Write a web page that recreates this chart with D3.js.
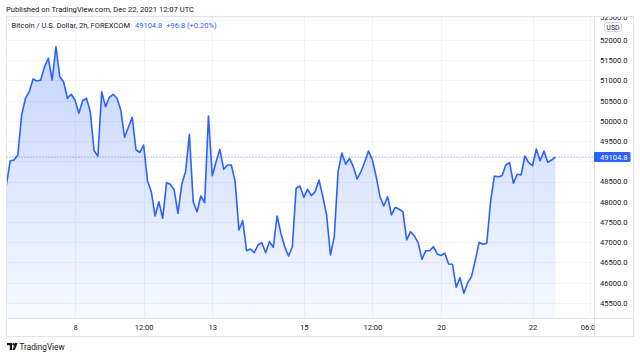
<!DOCTYPE html>
<html><head><meta charset="utf-8">
<script src="https://cdn.jsdelivr.net/npm/d3@7"></script>
<style>
html,body{margin:0;padding:0;background:#fff;}
svg text{font-family:Roboto,"Liberation Sans",sans-serif;}
</style></head>
<body><svg id="c" width="640" height="358"></svg>
<script>
// ---- data (2h closes, BTCUSD FOREXCOM, Dec 6 12:00 -> Dec 22 12:00, weekends skipped) ----
const closes = [
48415,49016,49033,49157,50146,50559,50722,51036,50986,51011,
51340,51548,51011,51834,51093,50969,50559,50658,50517,50188,
50499,50559,50227,49263,49132,50722,50351,50583,50658,50559,
50269,49595,49842,50089,49281,49224,49404,48522,48250,47649,
48002,47592,48472,48433,48292,47716,48433,48744,49669,48002,
47755,48143,47978,50121,48645,48991,49298,48803,48910,48910,
48497,47303,47533,46791,46833,46742,46932,46989,46742,47014,
46875,47649,47221,46890,46660,46890,48334,48391,48111,48309,
48151,48250,48539,48126,47674,46685,47137,48744,49206,48927,
49075,48868,48564,48744,48991,49256,49033,48621,48126,47896,
48126,47674,47864,47815,47755,47056,47261,47155,46989,46578,
46791,46791,46890,46710,46672,46727,46462,46455,45886,46124,
45738,46000,46148,46561,46999,46949,46974,48002,48638,48621,
48645,48910,48967,48457,48680,48663,49132,48967,48892,49305,
49016,49256,48977,49033,49104.8
];
const lastPrice = 49104.8;
const change = "+96.8 (+0.20%)";
const timeTickIndex = [18, 36, 54, 78, 96, 114, 138, 153];
const timeTickLabels = ["8", "12:00", "13", "15", "12:00", "20", "22", "06:00"];
const gridTicks = [45500,46000,46500,47000,47500,48000,48500,49000,49500,50000,50500,51000,51500,52000,52500];
const priceLabelTicks = [45500,46000,46500,47000,47500,48000,48500,49500,50000,50500,51000,51500,52000,52500];
const title = "Bitcoin / U.S. Dollar, 2h, FOREXCOM";
const published = "Published on TradingView.com, Dec 22, 2021 12:07 UTC";

// ---- layout ----
const L = 6.5, T = 16.5, R = 633.5, B = 336.5, PA = 594.5, TA = 318.5;
const blue = "#2962ff", grid = "#f0f3fa", border = "#e0e3eb", txt = "#131722";

const svg = d3.select("#c");
const x = d3.scaleLinear().domain([0, 154]).range([6.4, 593.5]);
const y = d3.scaleLinear().domain([45500, 52000]).range([302.9, 40]);

const defs = svg.append("defs");
const g = defs.append("linearGradient").attr("id","fillg").attr("gradientUnits","userSpaceOnUse")
  .attr("x1",0).attr("x2",0).attr("y1",40).attr("y2",TA);
g.append("stop").attr("offset",0).attr("stop-color",blue).attr("stop-opacity",0.27);
g.append("stop").attr("offset",1).attr("stop-color",blue).attr("stop-opacity",0.04);
defs.append("clipPath").attr("id","plotclip").append("rect").attr("x",L).attr("y",T).attr("width",PA-L).attr("height",TA-T);
defs.append("clipPath").attr("id","timeclip").append("rect").attr("x",L).attr("y",TA).attr("width",PA-L).attr("height",B-TA);
defs.append("clipPath").attr("id","priceclip").append("rect").attr("x",PA).attr("y",T+0.5).attr("width",R-PA).attr("height",TA-T);

// header
svg.append("text").attr("x",6).attr("y",12).attr("font-size",7.6).attr("fill",txt).text(published);

// grid
const plot = svg.append("g").attr("clip-path","url(#plotclip)");
plot.selectAll(".hg").data(gridTicks).join("line")
  .attr("x1",L).attr("x2",PA).attr("y1",d=>Math.round(y(d))+0.5).attr("y2",d=>Math.round(y(d))+0.5)
  .attr("stroke",grid).attr("stroke-width",1);
plot.selectAll(".vg").data(timeTickIndex).join("line")
  .attr("x1",d=>Math.round(x(d))+0.5).attr("x2",d=>Math.round(x(d))+0.5).attr("y1",T).attr("y2",TA)
  .attr("stroke",grid).attr("stroke-width",1);

// area + line
const idx = closes.map((d,i)=>i);
plot.append("path").datum(idx)
  .attr("d", d3.area().x(i=>x(i)).y0(TA).y1(i=>y(closes[i])))
  .attr("fill","url(#fillg)");
plot.append("path").datum(idx)
  .attr("d", d3.line().x(i=>x(i)).y(i=>y(closes[i])))
  .attr("fill","none").attr("stroke",blue).attr("stroke-width",1.6).attr("stroke-linejoin","round");

// last price dotted line
plot.append("line").attr("x1",L).attr("x2",PA).attr("y1",y(lastPrice)).attr("y2",y(lastPrice))
  .attr("stroke",blue).attr("stroke-width",1).attr("stroke-dasharray","1,2").attr("opacity",0.8);

// frame
svg.append("rect").attr("x",L).attr("y",T).attr("width",R-L).attr("height",B-T).attr("fill","none").attr("stroke",border);
svg.append("line").attr("x1",PA).attr("x2",PA).attr("y1",T).attr("y2",B).attr("stroke",border);
svg.append("line").attr("x1",L).attr("x2",R).attr("y1",TA).attr("y2",TA).attr("stroke",border);

// price axis
const yAxis = d3.axisRight(y).tickValues(priceLabelTicks).tickSize(0).tickPadding(0).tickFormat(d3.format(".1f"));
const ya = svg.append("g").attr("clip-path","url(#priceclip)").append("g").attr("transform",`translate(${PA},0)`).call(yAxis);
ya.select(".domain").remove();
ya.selectAll("text").attr("x",33).attr("text-anchor","end").attr("font-size",7.6).attr("fill",txt).attr("font-family","Roboto,sans-serif");
ya.selectAll(".tick").filter(d=>d===52500).select("text").attr("dy","-0.05em");

// USD badge
svg.append("rect").attr("x",604.5).attr("y",22.5).attr("width",17).attr("height",9).attr("rx",2.5)
  .attr("fill","#fff").attr("stroke","#d1d4dc");
svg.append("text").attr("x",613).attr("y",29.8).attr("text-anchor","middle").attr("font-size",7).attr("fill",txt).text("USD");

// last price label
svg.append("rect").attr("x",PA-0.5).attr("y",y(lastPrice)-5).attr("width",36.5).attr("height",10).attr("rx",1).attr("fill",blue);
svg.append("text").attr("x",PA+33).attr("y",y(lastPrice)+2.8).attr("text-anchor","end").attr("font-size",7.6)
  .attr("fill","#fff").text(d3.format(".1f")(lastPrice));

// time axis
const xAxis = d3.axisBottom(x).tickValues(timeTickIndex).tickSize(0).tickPadding(0)
  .tickFormat((d,i)=>timeTickLabels[i]);
const xa = svg.append("g").attr("clip-path","url(#timeclip)").append("g").attr("transform",`translate(0,${TA})`).call(xAxis);
xa.select(".domain").remove();
xa.selectAll("text").attr("y",6).attr("font-size",7.6).attr("fill",txt).attr("font-family","Roboto,sans-serif");

// legend
const leg = svg.append("text").attr("x",11.5).attr("y",28).attr("font-size",7.5);
leg.append("tspan").attr("fill",txt).text(title);
leg.append("tspan").attr("fill",blue).attr("dx",5).text(d3.format(".1f")(lastPrice));
leg.append("tspan").attr("fill",blue).attr("dx",4).text(change);

// TradingView logo
const lg = svg.append("g").attr("transform","translate(7,343)");
lg.append("path").attr("d","M0,0 H5 V7 H2.8 V2.2 H0 Z").attr("fill",txt);
lg.append("circle").attr("cx",6.6).attr("cy",1.2).attr("r",1.2).attr("fill",txt);
lg.append("path").attr("d","M8.2,0 H10.6 L7.8,7 H5.4 Z").attr("fill",txt);
svg.append("text").attr("x",19.5).attr("y",350).attr("font-size",8.2).attr("fill",txt).text("TradingView");
</script></body></html>
